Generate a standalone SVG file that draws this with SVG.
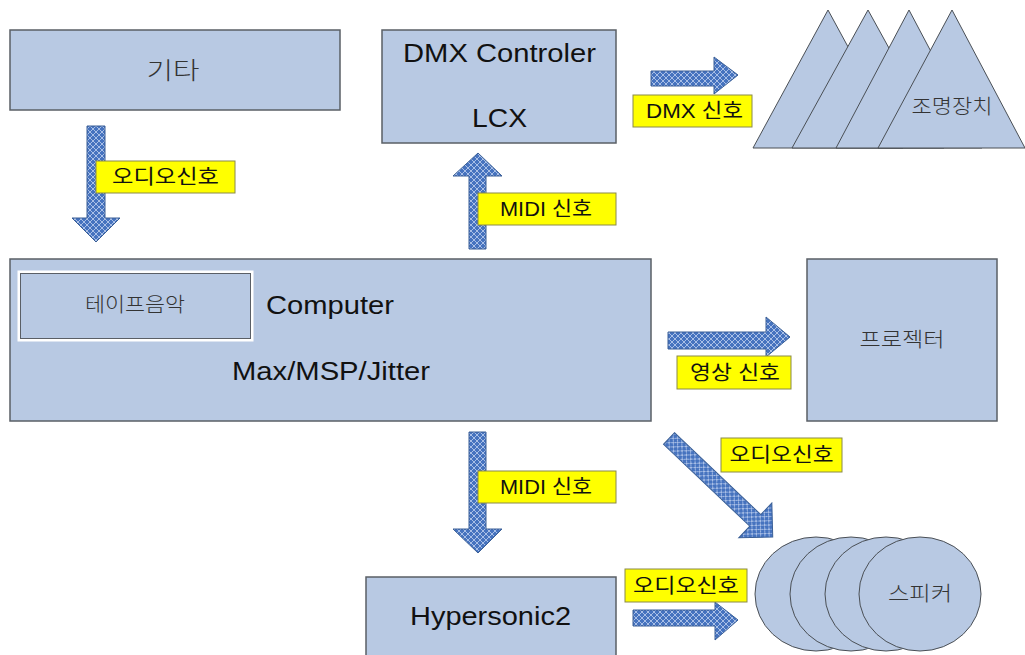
<svg xmlns="http://www.w3.org/2000/svg" width="1025" height="655" viewBox="0 0 1025 655">
<defs>
<pattern id="hatch" width="6" height="6" patternUnits="userSpaceOnUse">
<rect width="6" height="6" fill="#4673bf"/>
<path d="M0,0 L6,6 M6,0 L0,6" stroke="#a9bfe6" stroke-width="1"/>
</pattern>
<style>
.box{fill:#b8c9e3;stroke:#5a5f66;stroke-width:1.5}
.shape{fill:#b8c9e3;stroke:#4a4f55;stroke-width:1}
.arrow{fill:url(#hatch);stroke:#3a5f96;stroke-width:1}
.lbl{fill:#ffff00;stroke:#8a8a4a;stroke-width:1}
.lt{font-family:"Liberation Sans","Noto Sans CJK KR",sans-serif;font-size:20px;fill:#111;text-anchor:middle}
.big{font-family:"Liberation Sans",Arial,sans-serif;font-size:26px;fill:#111}
.kr{font-family:"Noto Sans CJK KR",sans-serif;fill:#333;text-anchor:middle;font-weight:300}
</style>
</defs>
<rect width="1025" height="655" fill="#ffffff"/>

<g id="guitar">
<rect class="box" x="10" y="30" width="330" height="80"/>
<text class="kr" x="173" y="79" font-size="24" textLength="53" lengthAdjust="spacingAndGlyphs">기타</text>
</g>

<g id="dmx">
<rect class="box" x="382" y="30" width="234" height="113"/>
<text class="big" x="403" y="62" textLength="193" lengthAdjust="spacingAndGlyphs">DMX Controler</text>
<text class="big" x="472" y="127" textLength="55" lengthAdjust="spacingAndGlyphs">LCX</text>
</g>

<g id="lights">
<polygon class="shape" points="828,10 753,148 903,148"/>
<polygon class="shape" points="868,10 792,148 944,148"/>
<polygon class="shape" points="909,10 836,148 982,148"/>
<polygon class="shape" points="952,10 878,148 1025,148"/>
<text class="kr" x="952" y="114" font-size="20" textLength="81" lengthAdjust="spacingAndGlyphs">조명장치</text>
</g>

<g id="computer">
<rect class="box" x="10" y="259" width="641" height="162"/>
<rect x="19" y="272" width="233" height="68" fill="none" stroke="#ffffff" stroke-width="3"/>
<rect x="20.5" y="273.5" width="230" height="65" fill="#b8c9e3" stroke="#5a5f66" stroke-width="1"/>
<text class="kr" x="135" y="312" font-size="20" textLength="100" lengthAdjust="spacingAndGlyphs">테이프음악</text>
<text class="big" x="266" y="314" textLength="128" lengthAdjust="spacingAndGlyphs">Computer</text>
<text class="big" x="232" y="380" textLength="198" lengthAdjust="spacingAndGlyphs">Max/MSP/Jitter</text>
</g>

<g id="projector">
<rect class="box" x="807" y="259" width="190" height="162"/>
<text class="kr" x="902" y="347" font-size="20" textLength="85" lengthAdjust="spacingAndGlyphs">프로젝터</text>
</g>

<g id="hypersonic">
<rect class="box" x="366" y="577" width="250" height="90"/>
<text class="big" x="410" y="625" textLength="161" lengthAdjust="spacingAndGlyphs">Hypersonic2</text>
</g>

<g id="speakers">
<ellipse class="shape" cx="816" cy="594" rx="61" ry="57"/>
<ellipse class="shape" cx="851" cy="594" rx="61" ry="57"/>
<ellipse class="shape" cx="886" cy="594" rx="61" ry="57"/>
<ellipse class="shape" cx="920" cy="594" rx="61" ry="57"/>
<text class="kr" x="920" y="601" font-size="20" textLength="64" lengthAdjust="spacingAndGlyphs">스피커</text>
</g>

<g id="connectors">
<polygon class="arrow" points="87,126 105,126 105,218 120,218 96,242 72,218 87,218"/>
<polygon class="arrow" points="469,249 486,249 486,176 502,176 478,153 453,176 469,176"/>
<polygon class="arrow" points="651,71 714,71 714,57 738,75 714,94 714,86 651,86"/>
<polygon class="arrow" points="668,332 766,332 766,317 790,337 766,357 766,349 668,349"/>
<polygon class="arrow" points="0,-8 119,-8 119,-24 143,0 119,24 119,8 0,8" transform="translate(669,438.5) rotate(43.5)"/>
<polygon class="arrow" points="469,432 486,432 486,529 502,529 478,553 453,529 469,529"/>
<polygon class="arrow" points="633,610 715,610 715,602 738,620 715,640 715,626 633,626"/>

<rect class="lbl" x="96" y="161" width="139" height="32"/>
<text class="lt" x="165.5" y="184" textLength="107" lengthAdjust="spacingAndGlyphs">오디오신호</text>
<rect class="lbl" x="478" y="193" width="138" height="32"/>
<text class="lt" x="546" y="216" textLength="92" lengthAdjust="spacingAndGlyphs">MIDI 신호</text>
<rect class="lbl" x="633" y="95" width="119" height="32"/>
<text class="lt" x="694.5" y="118" textLength="97" lengthAdjust="spacingAndGlyphs">DMX 신호</text>
<rect class="lbl" x="677" y="356" width="114" height="33"/>
<text class="lt" x="735" y="380" textLength="90" lengthAdjust="spacingAndGlyphs">영상 신호</text>
<rect class="lbl" x="721" y="438" width="121" height="34"/>
<text class="lt" x="781.5" y="462" textLength="104" lengthAdjust="spacingAndGlyphs">오디오신호</text>
<rect class="lbl" x="478" y="471" width="138" height="32"/>
<text class="lt" x="546" y="494" textLength="92" lengthAdjust="spacingAndGlyphs">MIDI 신호</text>
<rect class="lbl" x="625" y="569" width="122" height="33"/>
<text class="lt" x="686" y="593" textLength="106" lengthAdjust="spacingAndGlyphs">오디오신호</text>
</g>
</svg>
